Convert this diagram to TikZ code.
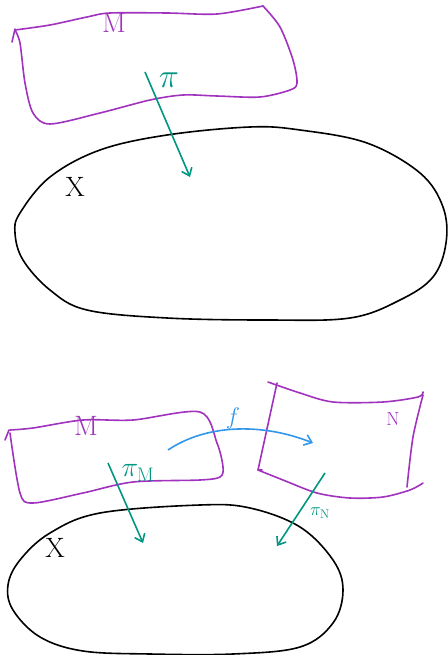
\RequirePackage{fix-cm}
\documentclass[tikz,border=0pt]{standalone}
\usepackage{amsmath}
\usepackage{xcolor}
\usepackage{tikz}
\usetikzlibrary{arrows.meta}

\definecolor{sheetpurple}{RGB}{160,50,190}
\definecolor{projteal}{RGB}{0,150,130}
\definecolor{mapblue}{RGB}{50,150,235}

\begin{document}
\begin{tikzpicture}[x=1pt, y=-1pt, >={Straight Barb[length=7pt,width=11pt]},
    sheet/.style={sheetpurple, line width=1.6pt, line join=round, line cap=round},
    space/.style={black, line width=1.6pt},
    proj/.style={->, projteal, line width=1.6pt},
    hand/.style={font=\fontsize{28}{28}\selectfont, inner sep=0pt}]
  \useasboundingbox (0,0) rectangle (447,655);

  % upper picture: M over X
  \draw[sheet] plot[smooth, tension=0.5] coordinates {(12,42) (15,29)};
  \draw[sheet] plot[smooth, tension=0.5] coordinates {(15,30) (50,25) (87,17) (110,13) (167,13) (217,14) (263,6)};
  \draw[sheet] plot[smooth, tension=0.5] coordinates {(263,6) (280,27) (293,60) (297,83) (290,90) (260,97) (217,96) (183,95) (150,100) (100,113) (50,124) (33,113) (25,83) (20,43) (15,30)};
  \node[hand, sheetpurple] (m1) at (114,23) {$\mathrm{M}$};

  \draw[space] plot[smooth cycle, tension=0.6] coordinates {(250,127) (167,135) (100,150) (50,177) (20,213) (15,233) (23,260) (50,290) (87,310) (167,318) (267,320) (350,318) (400,300) (433,277) (446,243) (443,207) (420,173) (367,143) (300,130)};
  \node[hand] (x1) at (75,187) {$\mathrm{X}$};

  \coordinate (p1s) at (145,72);
  \coordinate (p1e) at (190,177);
  \draw[proj] (p1s) -- (p1e);
  \node[hand, projteal, font=\fontsize{34}{34}\selectfont] (pi1) at (169,80) {$\pi$};

  % lower picture: f from M to N over X
  \draw[sheet] plot[smooth, tension=0.5] coordinates {(5,440) (9,430)};
  \draw[sheet] plot[smooth, tension=0.5] coordinates {(10,430) (33,428) (83,420) (133,420) (200,412) (217,443) (223,467) (220,477) (200,480) (133,482) (83,493) (33,503) (20,493) (10,433)};
  \node[hand, sheetpurple] (m2) at (86,426) {$\mathrm{M}$};

  \draw[sheet] (277,383) -- (258,470) -- (262,470);
  \draw[sheet] plot[smooth, tension=0.5] coordinates {(268,382) (300,393) (333,402) (383,402) (418,397) (423,392)};
  \draw[sheet] plot[smooth, tension=0.5] coordinates {(423,395) (413,437) (407,487)};
  \draw[sheet] plot[smooth, tension=0.5] coordinates {(258,470) (283,480) (317,493) (350,498) (383,497) (410,490) (423,483)};
  \node[hand, sheetpurple, font=\fontsize{19}{19}\selectfont] (n2) at (393,419) {$\mathrm{N}$};

  \coordinate (fs) at (168,450);
  \coordinate (fe) at (313,443);
  \draw[->, mapblue, line width=1.6pt] (fs) .. controls (205,425) and (260,422) .. (fe);
  \node[hand, mapblue, font=\fontsize{24}{24}\selectfont] (f2) at (233,418) {$f$};

  \draw[space] plot[smooth cycle, tension=0.6] coordinates {(200,505) (100,513) (50,533) (20,560) (8,585) (13,610) (40,637) (83,651) (150,654) (233,654) (300,647) (333,623) (343,590) (333,560) (300,527) (250,508)};
  \node[hand] (x2) at (55,548) {$\mathrm{X}$};

  \coordinate (pMs) at (108,463);
  \coordinate (pMe) at (143,543);
  \draw[proj] (pMs) -- (pMe);
  \node[hand, projteal, font=\fontsize{28}{28}\selectfont] (piM) at (138,473) {$\pi_{\mathrm{M}}$};

  \coordinate (pNs) at (325,473);
  \coordinate (pNe) at (277,546);
  \draw[proj] (pNs) -- (pNe);
  \node[hand, projteal, font=\fontsize{18}{18}\selectfont] (piN) at (320,513) {$\pi_{\mathrm{N}}$};
\end{tikzpicture}
\end{document}
